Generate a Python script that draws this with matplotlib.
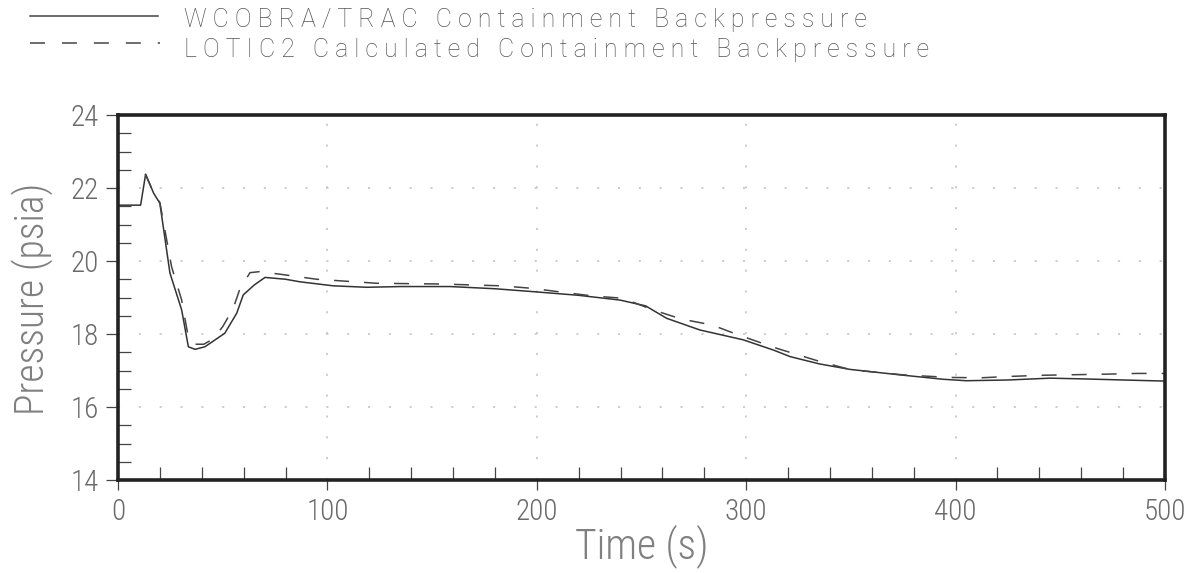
import matplotlib
matplotlib.use("Agg")
import matplotlib.pyplot as plt
from matplotlib.lines import Line2D
from matplotlib.ticker import MultipleLocator

# WCOBRA/TRAC containment backpressure (solid)
wc_time = [0, 10.8, 13.2, 17, 20, 24.8, 30.4, 33.6, 36.8, 41.5, 51, 56.7, 59.8, 65,
           70.2, 80, 86.9, 102.8, 118.8, 135, 158.5, 180, 198.3, 220, 239.7, 252,
           262, 277.9, 298.6, 313, 321, 335, 349.6, 373.5, 394, 405, 425, 445, 461,
           480, 500]
wc_press = [21.53, 21.53, 22.38, 21.86, 21.58, 19.67, 18.66, 17.65, 17.58, 17.65,
            18.02, 18.57, 19.07, 19.34, 19.55, 19.5, 19.43, 19.32, 19.28, 19.30,
            19.30, 19.24, 19.16, 19.06, 18.93, 18.77, 18.43, 18.11, 17.84, 17.56,
            17.38, 17.18, 17.03, 16.88, 16.76, 16.72, 16.74, 16.79, 16.77, 16.74,
            16.71]

# LOTIC2 calculated containment backpressure (dashed)
lo_time = [13, 16, 20, 25.6, 30.4, 33.6, 37, 41, 45, 50, 55, 58, 63, 67.8, 79.7,
           94.9, 123.5, 153.8, 183, 198, 212.7, 227, 241, 255.5, 269, 283.5, 297,
           315, 335, 350, 375, 397, 412, 427, 442, 472, 487, 500]
lo_press = [22.38, 22.0, 21.6, 19.84, 18.93, 17.9, 17.72, 17.72, 17.85, 18.2, 18.7,
            19.2, 19.68, 19.71, 19.62, 19.5, 19.39, 19.37, 19.32, 19.25, 19.14,
            19.04, 18.98, 18.66, 18.41, 18.25, 17.96, 17.6, 17.25, 17.02, 16.88,
            16.81, 16.8, 16.84, 16.87, 16.90, 16.92, 16.92]

legend_labels = ["WCOBRA/TRAC Containment Backpressure",
                 "LOTIC2 Calculated Containment Backpressure"]

plt.rcParams['lines.scale_dashes'] = False
thin = ['Roboto Condensed', 'Roboto', 'DejaVu Sans']

fig = plt.figure(figsize=(11.88, 5.73), dpi=100)
W, H = 1188, 573
ax = fig.add_axes([118 / W, 1 - 480 / H, (1165 - 118) / W, (480 - 115) / H])

ax.plot(wc_time, wc_press, color='#333333', lw=1.1)
ax.plot(lo_time, lo_press, color='#444444', lw=1.1, dashes=(10.8, 10.8))

ax.set_xlim(0, 500)
ax.set_ylim(14, 24)
ax.xaxis.set_major_locator(MultipleLocator(100))
ax.xaxis.set_minor_locator(MultipleLocator(20))
ax.yaxis.set_major_locator(MultipleLocator(2))
ax.yaxis.set_minor_locator(MultipleLocator(0.5))

ax.tick_params(which='major', direction='out', length=9, width=0.9,
               color='#444444', labelcolor='#6a6a6a', labelsize=21)
ax.tick_params(axis='x', which='major', length=7, pad=6)
ax.tick_params(axis='y', which='major', pad=5)
ax.tick_params(which='minor', direction='in', length=9.5, width=0.9, color='#444444')
for lab in ax.get_xticklabels() + ax.get_yticklabels():
    lab.set_family(thin)
    lab.set_fontweight('light')

for sp in ax.spines.values():
    sp.set_linewidth(2.6)
    sp.set_color('#222222')

ax.grid(True, which='major', color='#c4c4c4', lw=1.2, linestyle=(0, (1.5, 13.5)))

ax.set_xlabel("Time (s)", fontsize=30, color='#808080', family=thin, fontweight='light')
ax.set_ylabel("Pressure (psia)", fontsize=28.5, color='#808080', family=thin,
              fontweight='light')
ax.xaxis.set_label_coords(0.5, -0.122)
ax.yaxis.set_label_coords(-0.062, 0.496)

# legend drawn above the plot
fig.add_artist(Line2D([30 / W, 158 / W], [1 - 16 / H, 1 - 16 / H],
                      color='#444444', lw=1.1))
fig.add_artist(Line2D([30 / W, 160 / W], [1 - 43 / H, 1 - 43 / H],
                      color='#444444', lw=1.1, dashes=(10.8, 12.2)))
leg_font = ['Roboto', 'DejaVu Sans']
fig.text(184 / W, 1 - 20 / H, ' '.join(legend_labels[0]), fontsize=18,
         color='#555555', va='center', ha='left', family=leg_font, fontweight='light')
fig.text(184 / W, 1 - 49.8 / H, ' '.join(legend_labels[1]), fontsize=18,
         color='#555555', va='center', ha='left', family=leg_font, fontweight='light')

fig.savefig("out.png", dpi=100)
